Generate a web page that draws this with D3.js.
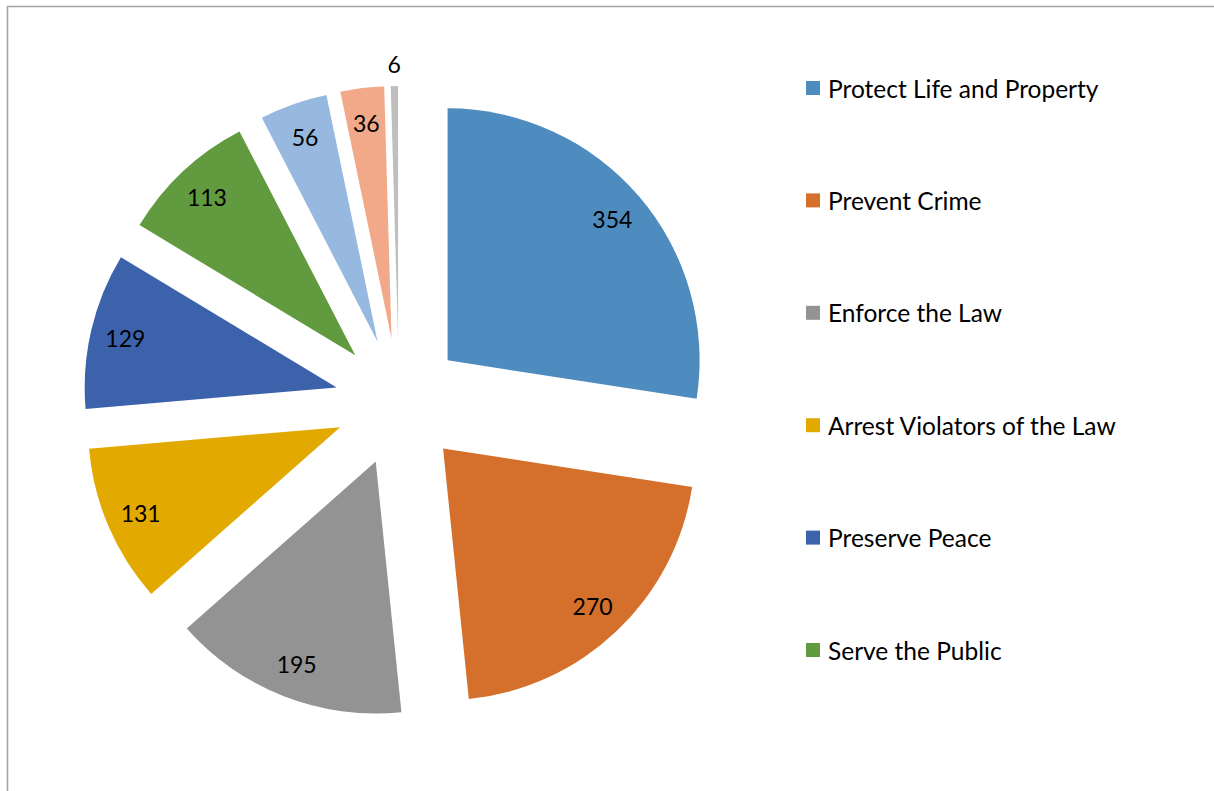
<!DOCTYPE html>
<html>
<head>
<meta charset="utf-8">
<script src="https://cdn.jsdelivr.net/npm/d3@7"></script>
<style>
  html, body { margin: 0; padding: 0; background: #fff; overflow: hidden; }
  text { font-family: Lato, "Open Sans", sans-serif; fill: #000; }
</style>
</head>
<body>
<div id="viz"></div>
<script>
// slice values, clockwise from 12 o'clock
const values = [354, 270, 195, 131, 129, 113, 56, 36, 6];
// legend names (only the first six fit in the legend box)
const categories = [
  "Protect Life and Property",
  "Prevent Crime",
  "Enforce the Law",
  "Arrest Violators of the Law",
  "Preserve Peace",
  "Serve the Public"
];
const palette = ["#4E8BBF", "#D46F2C", "#939393", "#E2AA00", "#3D62AC",
                 "#629A3F", "#97B9E0", "#F1A98A", "#BFBFBF"];

const width = 1214, height = 791;
const cx = 399, cy = 402, radius = 252, explode = 64;

const svg = d3.select("#viz").append("svg")
  .attr("width", width)
  .attr("height", height);

// chart area border (right/bottom fall outside the shot)
svg.append("rect")
  .attr("x", 7.5).attr("y", 6.5)
  .attr("width", 1210).attr("height", 820)
  .attr("fill", "none")
  .attr("stroke", "#A3A3A3")
  .attr("stroke-width", 1.5);

const pie = d3.pie().sort(null).value(d => d);
const arcs = pie(values);
const arc = d3.arc().innerRadius(0).outerRadius(radius);

const g = svg.append("g").attr("transform", "translate(" + cx + "," + cy + ")");

const slice = g.selectAll("g.slice")
  .data(arcs)
  .enter().append("g")
    .attr("class", "slice")
    .attr("transform", function(d) {
      const mid = (d.startAngle + d.endAngle) / 2;
      return "translate(" + (Math.sin(mid) * explode) + "," + (-Math.cos(mid) * explode) + ")";
    });

slice.append("path")
  .attr("d", arc)
  .attr("fill", (d, i) => palette[i]);

// data labels: inside end, the tiny slice gets pushed outside
slice.append("text")
  .attr("text-anchor", "middle")
  .attr("dominant-baseline", "central")
  .attr("font-size", 23)
  .attr("transform", function(d) {
    const mid = (d.startAngle + d.endAngle) / 2;
    const r = d.value < 20 ? radius + 22 : 217;
    return "translate(" + (Math.sin(mid) * r) + "," + (-Math.cos(mid) * r) + ")";
  })
  .text(d => d.value);

// legend
const legend = svg.append("g").attr("transform", "translate(806,88)");
const item = legend.selectAll("g")
  .data(categories)
  .enter().append("g")
    .attr("transform", (d, i) => "translate(0," + (i * 112.4) + ")");

item.append("rect")
  .attr("x", 0).attr("y", -7)
  .attr("width", 14).attr("height", 14)
  .attr("fill", (d, i) => palette[i]);

item.append("text")
  .attr("x", 22)
  .attr("y", 0)
  .attr("dominant-baseline", "central")
  .attr("font-size", 24.5)
  .text(d => d);
</script>
</body>
</html>
